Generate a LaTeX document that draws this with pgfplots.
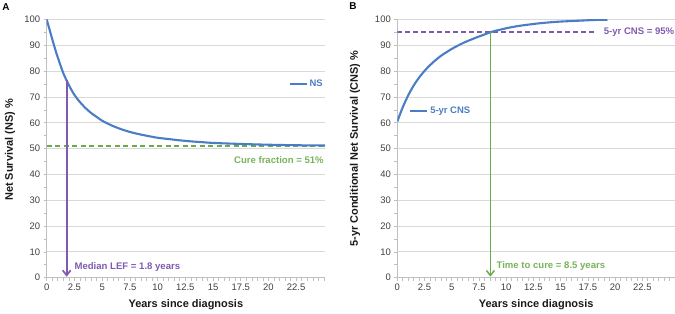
\documentclass[border=0pt]{standalone}
\usepackage{pgfplots}
\pgfplotsset{compat=1.18}
\usepackage{fontspec}
\setmainfont{Liberation Sans}
\usetikzlibrary{arrows.meta}
\definecolor{cblue}{HTML}{4A7DC5}
\definecolor{cpurple}{HTML}{7F5BB0}
\definecolor{cgreen}{HTML}{6AAB4C}
\definecolor{cgreentext}{HTML}{78B35A}
\definecolor{gridgray}{HTML}{D9D9D9}
\definecolor{axgray}{HTML}{BFBFBF}
\definecolor{tickgray}{HTML}{404040}
\pgfplotstableread{
t ns
0 100
0.25 96.2
0.5 92.4
0.75 88.7
1 85.3
1.5 79.2
2 74.6
2.5 70.8
3 68.0
3.5 65.7
4 63.8
4.5 62.3
5 60.8
6 58.7
7 57.1
8 55.9
9 55.0
10 54.2
11 53.7
12 53.2
13 52.8
14 52.5
15 52.2
17.5 51.8
20 51.5
22.5 51.3
25.1 51.2
}\nsdata
\pgfplotstableread{
t cns
0 60.5
0.5 66.0
1 70.6
1.5 74.4
2 77.5
2.5 80.1
3 82.3
3.5 84.2
4 85.9
5 88.6
6 90.8
7 92.6
8 94.2
8.5 95.0
9 95.6
10 96.6
11 97.4
12 98.0
13 98.5
14 98.9
15 99.2
16 99.4
17 99.6
18 99.8
19.3 99.9
}\cnsdata
\pgfplotsset{
  panel/.style={
    scale only axis, height=258.2bp,
    xmin=0, ymin=0, ymax=100,
    axis x line*=bottom, axis y line*=left,
    axis line style={color=axgray, line width=0.8bp, -},
    xtick={0,2.5,5,7.5,10,12.5,15,17.5,20,22.5},
    xticklabels={0,2.5,5,7.5,10,12.5,15,17.5,20,22.5},
    ytick={0,10,...,100},
    minor xtick={0,0.5,...,25},
    minor ytick={5,15,...,95},
    tick align=outside,
    major tick length=3bp, minor tick length=3bp,
    tick style={color=axgray, line width=0.6bp},
    ymajorgrids, grid style={color=gridgray, line width=0.8bp},
    /pgf/number format/assume math mode=true,
    ticklabel style={font=\fontsize{9.5}{11}\selectfont, text=tickgray},
    label style={font=\bfseries\fontsize{11}{13}\selectfont, text=black!90},
    xlabel={Years since diagnosis},
    xlabel style={at={(axis description cs:0.5,-0.106)}, anchor=center},
    legend style={draw=none, fill=none, inner sep=0pt,
      font=\bfseries\fontsize{9.5}{11}\selectfont, text=cblue},
    legend cell align=left,
  }
}
\begin{document}
\begin{tikzpicture}
\path[use as bounding box] (0,0) rectangle (675bp,314bp);
\node[font=\bfseries\fontsize{10}{12}\selectfont] at (6bp,307bp) {A};
\node[font=\bfseries\fontsize{10}{12}\selectfont] at (353bp,307.5bp) {B};
\begin{axis}[panel, at={(46.7bp,36.3bp)}, anchor=south west,
  width=278.3bp, xmax=25.1,
  ylabel={Net Survival (NS) \%},
  ylabel style={at={(axis description cs:-0.132,0.495)}, anchor=center},
  legend style={at={(axis description cs:1,0.75)}, anchor=east}]
\addplot[color=cgreen, line width=1.8bp, dash pattern=on 5bp off 3.5bp, forget plot] coordinates {(0,51) (25.1,51)};
\addplot[color=cblue, line width=2.1bp, smooth] table[x=t,y=ns] {\nsdata};
\addlegendentry{NS}
\addplot[color=cpurple, line width=1.7bp, -{Straight Barb[length=5bp,width=8bp]}, forget plot] coordinates {(1.8,76.5) (1.8,0.4)};
\node[anchor=west, inner sep=0pt, text=cpurple, font=\bfseries\fontsize{9.6}{11}\selectfont] at (axis cs:2.5,4.3) {Median LEF = 1.8 years};
\node[anchor=east, inner sep=0pt, text=cgreentext, font=\bfseries\fontsize{9.6}{11}\selectfont] at (axis cs:25.0,45.6) {Cure fraction = 51\%};
\end{axis}
\begin{axis}[panel, at={(397.3bp,36.3bp)}, anchor=south west,
  width=277.7bp, xmax=25.5,
  ylabel={5-yr Conditional Net Survival (CNS) \%},
  ylabel style={at={(axis description cs:-0.152,0.5)}, anchor=center},
  legend style={at={(axis description cs:0.042,0.646)}, anchor=west}]
\addplot[color=cpurple, line width=2bp, dash pattern=on 5bp off 3bp, forget plot] coordinates {(0,95.1) (18.3,95.1)};
\addplot[color=cblue, line width=2.1bp, smooth] table[x=t,y=cns] {\cnsdata};
\addlegendentry{5-yr CNS}
\addplot[color=cgreen, line width=1.5bp, -{Straight Barb[length=5bp,width=8bp]}, forget plot] coordinates {(8.55,95) (8.55,0.4)};
\node[anchor=east, inner sep=0pt, text=cpurple, font=\bfseries\fontsize{9.6}{11}\selectfont] at (axis cs:25.45,95) {5-yr CNS = 95\%};
\node[anchor=west, inner sep=0pt, text=cgreentext, font=\bfseries\fontsize{9.6}{11}\selectfont] at (axis cs:9.1,4.5) {Time to cure = 8.5 years};
\end{axis}
\end{tikzpicture}
\end{document}
